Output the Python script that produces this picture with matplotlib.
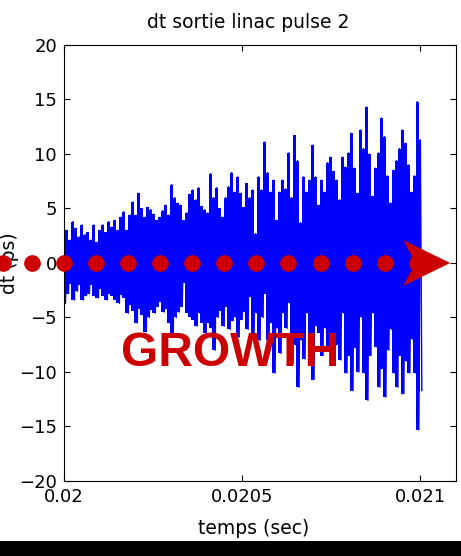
import numpy as np
import matplotlib
matplotlib.use("Agg")
import matplotlib.pyplot as plt
from matplotlib.patches import Polygon, Rectangle

# envelope of dt (ps), read every ~3 px from t=0.020 to t=0.021 s
upper = [4.1, 3.0, 2.1, 3.8, 3.2, 2.4, 3.5, 2.6, 2.8, 2.1,
         3.5, 1.9, 3.0, 3.5, 2.8, 3.8, 3.3, 3.9, 3.0, 4.2,
         4.7, 3.0, 4.4, 5.6, 4.4, 6.4, 5.0, 4.2, 5.1, 4.9,
         4.5, 3.9, 4.2, 4.8, 5.3, 4.4, 7.2, 6.0, 5.5, 5.3,
         3.9, 4.6, 6.3, 6.7, 5.8, 6.9, 5.2, 4.9, 4.6, 8.2,
         6.0, 6.9, 5.0, 4.2, 6.0, 7.0, 8.3, 6.5, 7.9, 6.4,
         5.1, 7.3, 6.0, 6.7, 2.7, 7.9, 6.7, 11.1, 8.3, 6.5,
         7.6, 3.9, 6.5, 7.6, 6.8, 10.1, 6.0, 11.7, 9.4, 3.7,
         7.9, 6.5, 7.6, 10.8, 7.9, 5.3, 7.6, 6.5, 9.2, 9.7,
         8.4, 7.6, 5.8, 9.7, 8.8, 10.1, 11.9, 8.7, 6.4, 12.2,
         10.5, 14.3, 10.0, 6.1, 8.7, 10.1, 13.3, 11.6, 8.0, 5.5,
         8.5, 9.4, 10.5, 12.2, 11.0, 9.0, 6.5, 8.0, 14.8, 11.3]
lower = [-3.7, -2.8, -1.9, -3.4, -2.6, -2.0, -3.4, -3.0, -2.8, -2.0,
         -3.0, -3.2, -2.4, -3.0, -3.4, -2.8, -3.0, -3.4, -3.7, -2.9,
         -3.2, -4.6, -3.9, -4.4, -5.5, -4.2, -4.8, -6.3, -5.0, -4.3,
         -4.6, -4.0, -3.6, -4.5, -4.2, -5.5, -6.4, -5.0, -4.5, -4.0,
         -1.8, -4.6, -5.0, -5.2, -5.8, -4.6, -5.5, -6.4, -5.5, -6.0,
         -8.0, -5.0, -4.4, -5.8, -4.0, -6.1, -5.3, -5.0, -6.8, -5.2,
         -4.5, -6.1, -3.1, -6.4, -4.6, -7.1, -5.0, -2.8, -7.1, -5.5,
         -10.1, -6.0, -8.3, -4.6, -6.0, -3.7, -9.2, -7.5, -11.4, -7.1,
         -8.8, -4.6, -8.3, -10.7, -5.8, -6.4, -8.5, -6.0, -7.7, -6.7,
         -8.3, -7.5, -8.9, -4.6, -10.1, -8.5, -11.7, -7.8, -10.0, -5.0,
         -10.1, -12.6, -8.5, -4.6, -7.7, -11.4, -9.7, -12.3, -8.0, -6.1,
         -10.1, -11.4, -8.5, -12.0, -9.0, -10.1, -7.0, -10.1, -15.3, -11.7]

# markers of the "growth" arrow
dot_t = [0.01983, 0.01991, 0.02000, 0.02009, 0.02018, 0.02027, 0.02036,
         0.02045, 0.02054, 0.02063, 0.02072, 0.02081, 0.02090, 0.02099]
yticks = [-20, -15, -10, -5, 0, 5, 10, 15, 20]
xticks = [0.02, 0.0205, 0.021]
xticklabels = ['0.02', '0.0205', '0.021']

n = len(upper)
t = np.linspace(0.02, 0.021, n)
dt_half = (t[1] - t[0]) / 2
# signal oscillates between the upper and lower peaks
ts = np.empty(2 * n)
ys = np.empty(2 * n)
ts[0::2] = t
ts[1::2] = t + dt_half
ys[0::2] = upper
ys[1::2] = lower

fig = plt.figure(figsize=(4.61, 5.56), dpi=100)
ax = fig.add_axes([0.1388, 0.1349, 0.8503, 0.7842])

blue = '#0000ff'
ax.fill_between(t, lower, upper, step='mid', color=blue, lw=0, zorder=2)
ax.plot(ts, ys, color=blue, lw=1.0, zorder=2)

ax.set_xlim(0.02, 0.0211)
ax.set_ylim(-20, 20)
ax.set_xticks(xticks)
ax.set_xticklabels(xticklabels)
ax.set_yticks(yticks)
ax.tick_params(direction='in', top=True, right=True, length=4, width=0.8,
               labelsize=13, pad=5)
for s in ax.spines.values():
    s.set_linewidth(0.8)

ax.set_title('dt sortie linac pulse 2', fontsize=13.5, x=0.469, pad=12)
ax.set_xlabel('temps (sec)', fontsize=13.5)
ax.xaxis.set_label_coords(0.485, -0.088)
ax.text(-0.138, 0.5, 'dt (ps)', transform=ax.transAxes, rotation=90,
        ha='center', va='center', fontsize=13.5, zorder=1)

red = '#cc0000'
ax.plot(dot_t, [0] * len(dot_t), 'o', color=red, ms=11, mec=red,
        clip_on=False, zorder=5)
head = Polygon([(0.020952, 2.1), (0.021084, 0), (0.020952, -2.1),
                (0.020986, 0)], closed=True, facecolor=red, edgecolor='none',
               clip_on=False, zorder=6)
ax.add_patch(head)
ax.text(0.020466, -8.3, 'GROWTH', color=red, fontsize=34.5,
        fontweight='bold', family='Liberation Sans', ha='center',
        va='center', zorder=6)

fig.patches.append(Rectangle((0, 0), 1, 15 / 556, transform=fig.transFigure,
                             facecolor='black', edgecolor='none'))

fig.savefig('out.png', dpi=100)
